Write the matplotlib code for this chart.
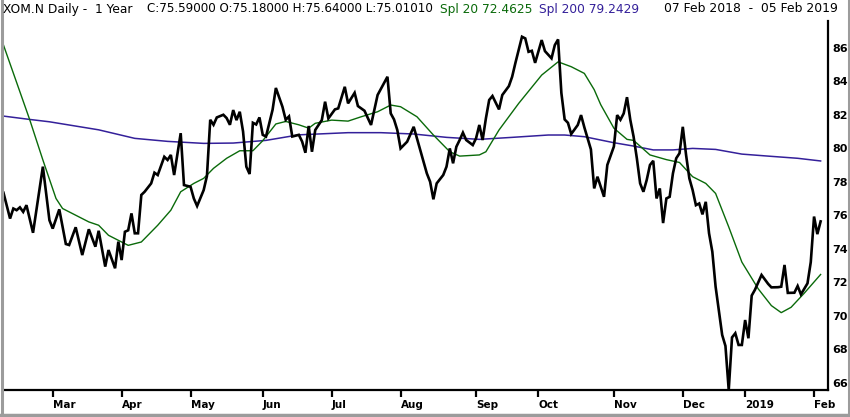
import matplotlib
matplotlib.use("Agg")
import matplotlib.pyplot as plt
from matplotlib.lines import Line2D

# trading-day index (0 = 07 Feb 2018, 249 = 05 Feb 2019) and closes
close_day = [0, 2, 3, 4, 5, 6, 7, 9, 12, 14, 15, 17, 19, 20, 22, 24, 26, 28, 29, 31,
             32, 34, 35, 36, 37, 38, 39, 40, 41, 42, 43, 45, 46, 47, 49, 50, 51, 52, 54, 55,
             57, 58, 59, 61, 62, 63, 64, 65, 67, 68, 69, 70, 71, 72, 73, 74, 75, 76, 77, 78,
             79, 80, 82, 83, 85, 86, 87, 88, 90, 91, 92, 93, 94, 95, 97, 98, 99, 101, 102, 104,
             105, 107, 108, 110, 112, 114, 117, 118, 119, 120, 121, 122, 123, 125, 127, 129, 130, 131, 132, 134,
             135, 136, 137, 138, 139, 140, 141, 143, 144, 145, 146, 147, 148, 149, 151, 152, 154, 155, 156, 158,
             159, 160, 161, 162, 164, 165, 167, 168, 169, 170, 171, 172, 173, 175, 176, 177, 179, 180, 181, 183,
             184, 186, 187, 188, 189, 190, 191, 192, 193, 194, 195, 196, 197, 198, 199, 200, 201, 202, 203, 204,
             205, 206, 207, 208, 209, 210, 211, 212, 213, 214, 215, 216, 217, 219, 220, 221, 222, 223, 224, 225,
             226, 227, 228, 229, 231, 233, 234, 236, 237, 238, 239, 241, 242, 243, 245, 246, 247, 248, 249]
close_val = [77.34, 75.80, 76.40, 76.30, 76.47, 76.20, 76.60, 74.95, 78.90, 75.70, 75.20, 76.35, 74.28, 74.22, 75.28, 73.62, 75.16, 74.12, 75.07, 72.93,
             73.92, 72.83, 74.42, 73.32, 75.01, 75.10, 76.11, 74.92, 74.92, 77.21, 77.40, 77.90, 78.54, 78.40, 79.49, 79.30, 79.60, 78.40, 80.90, 77.80,
             77.70, 77.00, 76.55, 77.50, 78.35, 81.70, 81.40, 81.84, 82.00, 81.80, 81.40, 82.28, 81.68, 82.18, 81.00, 78.90, 78.46, 81.52, 81.42, 81.84,
             80.80, 80.70, 82.30, 83.60, 82.48, 81.70, 81.90, 80.70, 80.80, 80.40, 79.73, 81.33, 79.79, 81.09, 81.68, 82.78, 81.78, 82.32, 82.38, 83.67,
             82.68, 83.31, 82.52, 82.24, 81.39, 83.18, 84.27, 82.08, 81.72, 81.09, 79.99, 80.19, 80.39, 81.28, 79.90, 78.50, 78.00, 76.95, 77.90, 78.40,
             78.90, 79.99, 79.10, 80.09, 80.49, 80.93, 80.49, 80.19, 80.59, 81.39, 80.49, 81.78, 82.88, 83.12, 82.32, 83.18, 83.71, 84.27, 85.10, 86.66,
             86.56, 85.76, 85.82, 85.10, 86.46, 85.80, 85.37, 86.16, 86.50, 83.30, 81.72, 81.52, 80.85, 81.39, 81.98, 81.25, 79.93, 77.60, 78.30, 77.10,
             79.00, 80.10, 81.98, 81.70, 82.08, 83.05, 81.70, 80.70, 79.40, 77.90, 77.40, 78.10, 79.00, 79.25, 77.00, 77.60, 75.53, 77.00, 77.10, 78.50,
             79.40, 79.70, 81.28, 79.60, 78.20, 77.50, 76.60, 76.70, 76.05, 76.80, 74.92, 73.82, 71.73, 68.85, 68.19, 65.56, 68.70, 68.95, 68.25, 68.25,
             69.74, 68.65, 71.20, 71.55, 72.43, 71.90, 71.69, 71.70, 71.73, 73.03, 71.36, 71.37, 71.77, 71.27, 71.93, 73.20, 75.92, 74.87, 75.63]

# simple moving averages
spl20_day = [0, 8, 12, 16, 18, 22, 26, 29, 32, 35, 38, 42, 47, 51, 54, 58, 61, 64, 68, 72,
             76, 79, 83, 86, 90, 93, 95, 100, 105, 109, 114, 118, 121, 126, 131, 136, 139, 145, 147, 151,
             157, 164, 169, 173, 177, 180, 182, 186, 190, 192, 197, 202, 206, 210, 214, 217, 221, 225, 230, 234,
             237, 240, 244, 249]
spl20_val = [86.16, 81.70, 79.30, 77.00, 76.40, 76.00, 75.60, 75.40, 74.80, 74.50, 74.20, 74.40, 75.40, 76.30, 77.40, 77.90, 78.20, 78.80, 79.40, 79.85,
             79.85, 80.45, 81.45, 81.60, 81.40, 81.20, 81.49, 81.68, 81.62, 81.88, 82.18, 82.58, 82.48, 81.88, 80.79, 79.79, 79.53, 79.60, 79.79, 81.09,
             82.68, 84.37, 85.16, 84.87, 84.47, 83.50, 82.60, 81.20, 80.53, 80.47, 79.60, 79.32, 79.15, 78.30, 77.90, 77.30, 75.30, 73.20, 71.60, 70.60,
             70.18, 70.50, 71.34, 72.46]
spl200_day = [0, 8, 14, 29, 40, 50, 61, 70, 80, 90, 105, 115, 125, 135, 145, 155, 166, 171, 177, 186,
              192, 198, 204, 210, 217, 225, 233, 242, 249]
spl200_val = [81.92, 81.72, 81.58, 81.10, 80.59, 80.41, 80.29, 80.31, 80.47, 80.80, 80.93, 80.93, 80.85, 80.65, 80.53, 80.65, 80.79, 80.79, 80.69, 80.33,
              80.13, 79.90, 79.90, 79.99, 79.93, 79.65, 79.53, 79.40, 79.24]

month_day = [15, 36, 57, 79, 100, 121, 144, 163, 186, 207, 226, 247]
month_lbl = ["Mar", "Apr", "May", "Jun", "Jul", "Aug", "Sep", "Oct", "Nov", "Dec", "2019", "Feb"]
price_ticks = list(range(66, 87, 2))

GREEN = "#0a6a0a"
PURPLE = "#34209a"

W, H = 850, 417
fig = plt.figure(figsize=(W / 100, H / 100), dpi=100)
ax = fig.add_axes([3 / W, 27 / H, 825 / W, 369 / H])

ax.plot(spl200_day, spl200_val, color=PURPLE, lw=1.1)
ax.plot(spl20_day, spl20_val, color=GREEN, lw=1.0)
ax.plot(close_day, close_val, color="black", lw=1.9, solid_joinstyle="miter")

ax.set_xlim(-0.15, 251.25)
ax.set_ylim(65.56, 87.6)

for s in ["left", "top"]:
    ax.spines[s].set_visible(False)
for s in ["right", "bottom"]:
    ax.spines[s].set_linewidth(1.6)

ax.yaxis.tick_right()
ax.set_yticks(price_ticks)
ax.set_yticklabels([str(v) for v in price_ticks])
ax.tick_params(axis="y", length=0, pad=3, labelsize=8)
ax.set_xticks(month_day)
ax.set_xticklabels(month_lbl)
ax.tick_params(axis="x", length=5, width=1.6, pad=2, labelsize=7.5)
for lbl in ax.get_xticklabels():
    lbl.set_horizontalalignment("left")
    lbl.set_fontweight("bold")
for lbl in ax.get_yticklabels():
    lbl.set_fontweight("bold")

ty = 1 - 9 / H
fig.text(3 / W, ty, "XOM.N Daily -  1 Year", fontsize=8.8, va="center")
fig.text(147 / W, ty, "C:75.59000 O:75.18000 H:75.64000 L:75.01010", fontsize=8.6, va="center")
fig.text(440 / W, ty, "Spl 20 72.4625", fontsize=8.8, va="center", color=GREEN)
fig.text(539 / W, ty, "Spl 200 79.2429", fontsize=8.8, va="center", color=PURPLE)
fig.text(664 / W, ty, "07 Feb 2018  -  05 Feb 2019", fontsize=8.9, va="center")

# grey window frame
gray = "#9c9c9c"
fig.add_artist(Line2D([1.5 / W, 1.5 / W], [0, 1], color=gray, lw=2.2, transform=fig.transFigure))
fig.add_artist(Line2D([1 - 1.5 / W, 1 - 1.5 / W], [0, 1], color=gray, lw=2.2, transform=fig.transFigure))
fig.add_artist(Line2D([0, 1], [2 / H, 2 / H], color=gray, lw=2.5, transform=fig.transFigure))

fig.savefig("out.png", dpi=100)
